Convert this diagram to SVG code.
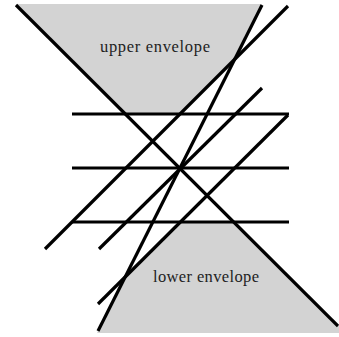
<svg xmlns="http://www.w3.org/2000/svg" width="339" height="337" viewBox="0 0 339 337">
<style>
.region{fill:#d3d3d3;stroke:none}
.ln{stroke:#000;stroke-width:3.2;fill:none}
.lbl{font-family:'Liberation Serif','DejaVu Serif',serif;font-size:16.5px;fill:#222}
</style>
<rect width="339" height="337" fill="#fff"/>
<g id="upper-envelope">
<polygon class="region" points="17,4 262,4 234,60 180,114 125,114"/>
<text class="lbl" x="100" y="52" textLength="110" lengthAdjust="spacing">upper envelope</text>
</g>
<g id="lower-envelope">
<polygon class="region" points="180,222 234,222 338,326 339,326 339,333 97,333 125,277"/>
<text class="lbl" x="153" y="282" textLength="106" lengthAdjust="spacing">lower envelope</text>
</g>
<g id="lines">
<line class="ln" x1="16" y1="5" x2="338" y2="326"/>
<line class="ln" x1="288" y1="6" x2="45" y2="249"/>
<line class="ln" x1="262" y1="5" x2="98" y2="331"/>
<line class="ln" x1="262" y1="88" x2="99" y2="249"/>
<line class="ln" x1="288" y1="115" x2="98" y2="304"/>
<line class="ln" x1="72" y1="114" x2="289" y2="114"/>
<line class="ln" x1="72" y1="168" x2="289" y2="168"/>
<line class="ln" x1="72" y1="222" x2="289" y2="222"/>
</g>
</svg>
